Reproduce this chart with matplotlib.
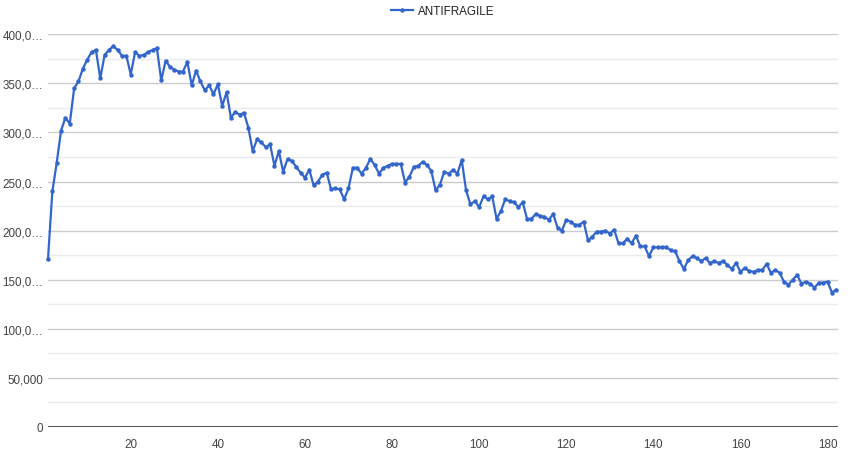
import matplotlib
matplotlib.use("Agg")
import matplotlib.pyplot as plt
from matplotlib.ticker import MultipleLocator, FuncFormatter
import numpy as np

plt.rcParams['font.family'] = ['Liberation Sans', 'DejaVu Sans']

series_name = "ANTIFRAGILE"
days = list(range(1, 183))
values_k = [
    171, 240, 269, 302, 315, 309, 345, 352, 365, 374,
    382, 384, 355, 379, 384, 388, 384, 378, 378, 359,
    382, 378, 379, 382, 384, 386, 353, 373, 367, 364,
    362, 362, 372, 348, 363, 352, 343, 348, 339, 349,
    327, 341, 315, 321, 318, 320, 305, 281, 293, 290,
    285, 288, 266, 281, 260, 273, 271, 265, 259, 254,
    262, 246, 250, 257, 259, 242, 243, 242, 232, 243,
    264, 264, 258, 264, 273, 267, 258, 264, 266, 268,
    268, 268, 249, 255, 265, 266, 270, 267, 261, 241,
    247, 260, 258, 262, 258, 272, 241, 227, 230, 224,
    235, 232, 235, 212, 220, 232, 230, 229, 224, 229,
    212, 212, 217, 215, 214, 211, 217, 203, 200, 211,
    209, 206, 206, 209, 190, 194, 199, 199, 200, 197,
    201, 187, 187, 192, 187, 195, 184, 184, 174, 183,
    183, 183, 183, 180, 179, 169, 161, 170, 174, 172,
    169, 172, 167, 169, 167, 169, 165, 161, 167, 158,
    162, 159, 158, 160, 160, 166, 157, 160, 157, 148,
    145, 150, 155, 146, 148, 146, 142, 147, 147, 148,
    137, 140,
]
values = [v * 1000 for v in values_k]
x_ticks = [20, 40, 60, 80, 100, 120, 140, 160, 180]

W, H = 850, 456
fig = plt.figure(figsize=(W / 100, H / 100), dpi=100)
left, right, bottom, top = 48, 838, 428, 35.3
ax = fig.add_axes([left / W, (H - bottom) / H, (right - left) / W, (bottom - top) / H])

color = '#3366cc'
line, = ax.plot(days, values, color=color, lw=1.6, marker='o', markersize=3.2,
                markeredgewidth=0, clip_on=False, label=series_name, zorder=3)

ax.set_xlim(1, 182.4)
ax.set_ylim(0, 400000)

ax.yaxis.set_major_locator(MultipleLocator(50000))
ax.yaxis.set_minor_locator(MultipleLocator(25000))
ax.set_xticks(x_ticks)

def yfmt(v, pos):
    s = f"{int(round(v)):,}"
    if len(s) > 6:
        s = s[:5] + "\u2026"
    return s

ax.yaxis.set_major_formatter(FuncFormatter(yfmt))
ax.grid(which='major', axis='y', color='#cccccc', lw=1)
ax.grid(which='minor', axis='y', color='#ebebeb', lw=1)
ax.set_axisbelow(True)
ax.axhline(0, color='#333333', lw=1.2, zorder=2)

for s in ax.spines.values():
    s.set_visible(False)
ax.tick_params(axis='both', which='both', length=0, labelsize=8.4, labelcolor='#444444')
ax.tick_params(axis='y', pad=3.5)
ax.tick_params(axis='x', pad=8)

leg = fig.legend(handles=[line], loc='center', bbox_to_anchor=(443 / W, 1 - 12 / H),
                 frameon=False, fontsize=8.4, handlelength=1.9, handletextpad=0.45,
                 borderpad=0)
for t in leg.get_texts():
    t.set_color('#222222')

fig.savefig('out.png', dpi=100, facecolor='white')
